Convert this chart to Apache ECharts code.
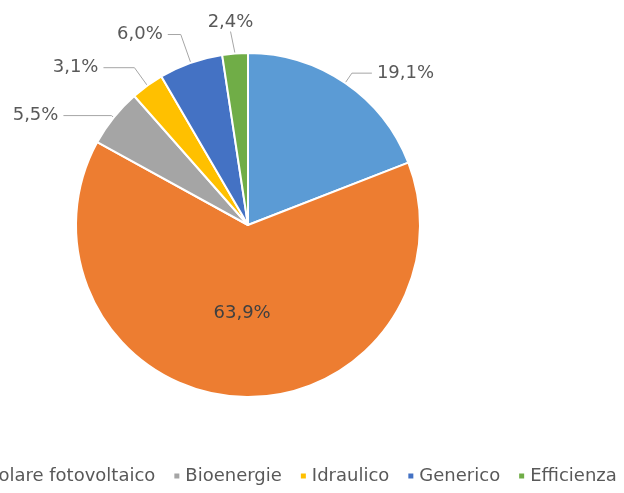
<!DOCTYPE html>
<html>
<head>
<meta charset="utf-8">
<title>Ripartizione</title>
<script src="https://cdn.jsdelivr.net/npm/echarts@6/dist/echarts.min.js"></script>
<style>
  html, body { margin: 0; padding: 0; background: #fff; }
  #chart { width: 624px; height: 493px; }
</style>
</head>
<body>
<div id="chart"></div>
<script>
// categorie (la prima non compare nella legenda, tagliata a sinistra)
const categories = ["Eolico", "Solare fotovoltaico", "Bioenergie", "Idraulico", "Generico", "Efficienza"];
const values = [19.1, 63.9, 5.5, 3.1, 6.0, 2.4];
const colors = ["#5b9bd5", "#ed7d31", "#a5a5a5", "#ffc000", "#4472c4", "#70ad47"];
const legendItems = ["Solare fotovoltaico", "Bioenergie", "Idraulico", "Generico", "Efficienza"];

// lunghezza delle linee guida per ogni fetta [length, length2]
const guideLen = [[12, 20], [0, 0], [3, 48], [22, 31], [30, 13], [20, 0]];

const chart = echarts.init(document.getElementById("chart"));

const fontFamily = "DejaVu Sans";

const option = {
  animation: false,
  color: colors,
  legend: {
    data: legendItems,
    orient: "horizontal",
    left: -26,
    top: 467,
    padding: 0,
    icon: "rect",
    itemWidth: 7,
    itemHeight: 7,
    itemGap: 17,
    textStyle: {
      color: "#595959",
      fontFamily: fontFamily,
      fontSize: 18
    }
  },
  series: [
    {
      type: "pie",
      center: [248, 225],
      radius: [0, 172],
      startAngle: 90,
      clockwise: true,
      avoidLabelOverlap: false,
      itemStyle: {
        borderColor: "#fff",
        borderWidth: 2
      },
      label: {
        show: true,
        position: "outside",
        color: "#595959",
        fontFamily: fontFamily,
        fontSize: 18,
        formatter: p => p.value.toFixed(1).replace(".", ",") + "%"
      },
      labelLine: {
        show: true,
        lineStyle: { color: "#a6a6a6", width: 1 }
      },
      // l'etichetta della fetta più piccola sta sopra la linea, centrata
      labelLayout: params => {
        if (params.dataIndex !== 5) return {};
        const pts = params.labelLinePoints;
        return {
          x: pts[2][0] - 3,
          y: pts[2][1] - 2,
          align: "center",
          verticalAlign: "bottom"
        };
      },
      data: categories.map((name, i) => {
        const d = {
          name: name,
          value: values[i],
          labelLine: { length: guideLen[i][0], length2: guideLen[i][1] }
        };
        if (i === 1) {
          d.label = { position: "inside", color: "#404040" };
          d.labelLine = { show: false };
        }
        return d;
      })
    }
  ]
};

chart.setOption(option);
</script>
</body>
</html>
